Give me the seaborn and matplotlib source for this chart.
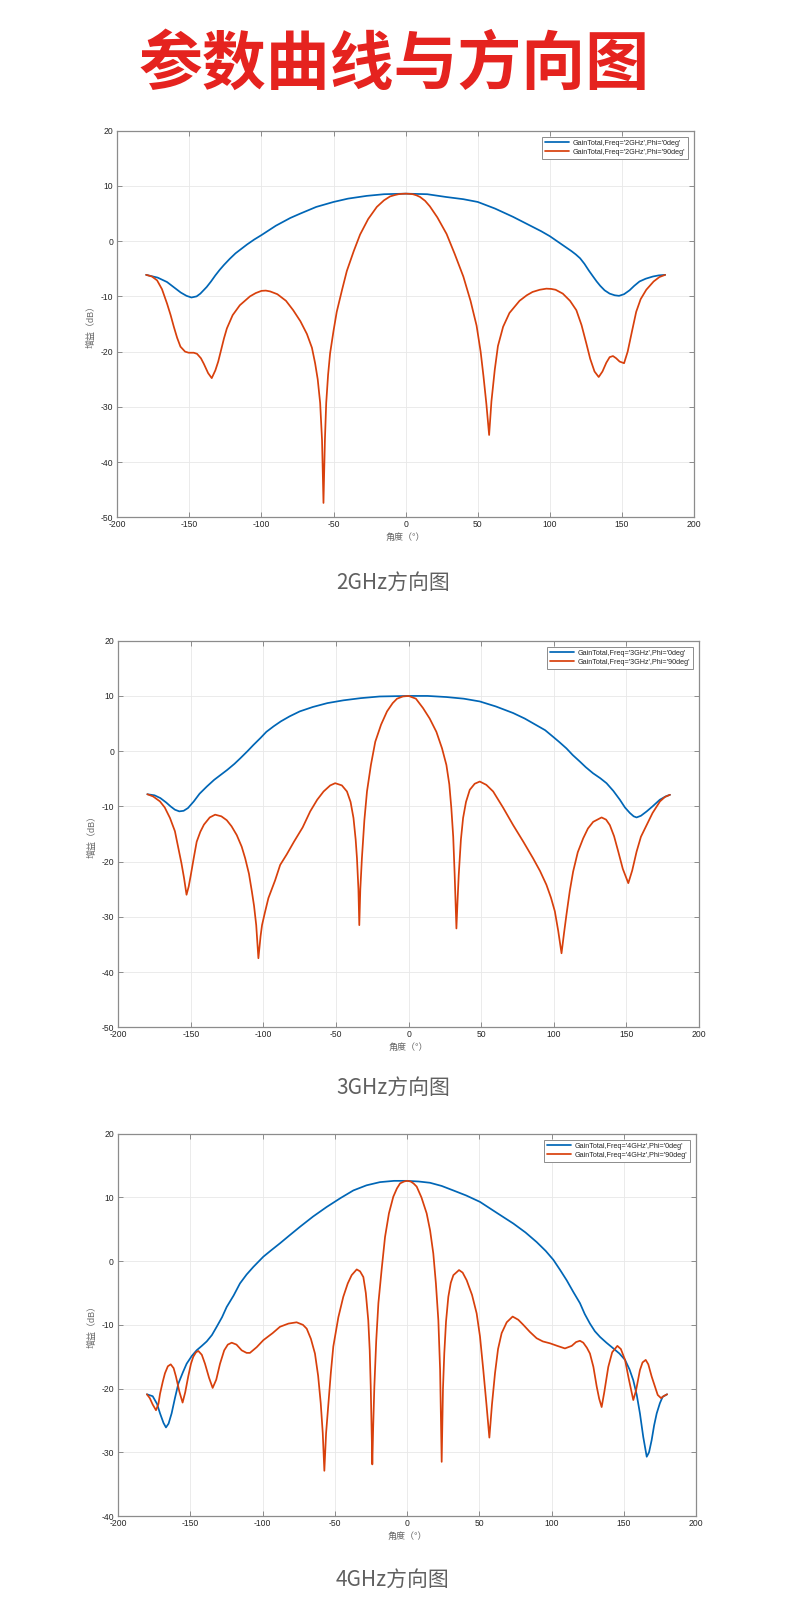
import matplotlib
matplotlib.use("Agg")
import matplotlib.pyplot as plt
import seaborn as sns

# ---------------- data ----------------
title_text = "参数曲线与方向图"
subtitles = ["2GHz方向图", "3GHz方向图", "4GHz方向图"]
legend_2g = ["GainTotal,Freq='2GHz',Phi='0deg'", "GainTotal,Freq='2GHz',Phi='90deg'"]
legend_3g = ["GainTotal,Freq='3GHz',Phi='0deg'", "GainTotal,Freq='3GHz',Phi='90deg'"]
legend_4g = ["GainTotal,Freq='4GHz',Phi='0deg'", "GainTotal,Freq='4GHz',Phi='90deg'"]
xticks = [-200, -150, -100, -50, 0, 50, 100, 150, 200]
yticks_2g = [-50, -40, -30, -20, -10, 0, 10, 20]
yticks_3g = [-50, -40, -30, -20, -10, 0, 10, 20]
yticks_4g = [-40, -30, -20, -10, 0, 10, 20]

ang_2g_phi0 = [-180, -172, -165.5, -160, -156, -152, -148.6, -145, -142.4, -138, -135, -132, -129, -126, -122,
               -118, -114, -110, -105, -100, -90, -80, -73, -62, -50, -40, -27, -15, 0, 15, 28, 40, 50, 62,
               74.5, 82, 88, 94, 100, 105, 110, 115, 118, 121, 124, 127, 130, 132.5, 135, 138, 141.5, 145, 148,
               151.5, 155.3, 158.5, 162.2, 166.5, 171.5, 175.5, 180]
gain_2g_phi0 = [-6.1, -6.6, -7.4, -8.5, -9.3, -9.9, -10.2, -10.0, -9.5, -8.3, -7.3, -6.2, -5.2, -4.3, -3.2,
                -2.2, -1.4, -0.6, 0.3, 1.1, 2.8, 4.2, 5.0, 6.2, 7.1, 7.7, 8.2, 8.5, 8.6, 8.5, 8.0, 7.6, 7.1, 5.9,
                4.4, 3.4, 2.6, 1.8, 0.9, 0.0, -0.9, -1.8, -2.4, -3.1, -4.1, -5.3, -6.4, -7.3, -8.1, -8.9, -9.5,
                -9.8, -9.9, -9.6, -8.9, -8.1, -7.3, -6.8, -6.4, -6.2, -6.1]

ang_2g_phi90 = [-180, -176, -172.4, -169, -165.5, -163, -160.8, -158.5, -156.2, -153, -150.5, -147, -144.7, -142,
                -140, -137, -134.5, -132, -130, -128, -126, -124, -120, -115, -108, -104, -100, -97, -94, -89,
                -83, -78, -73, -68.5, -65, -62.8, -61, -59.3, -58, -57, -56, -55.1, -53.8, -52.4, -50, -47.8,
                -44, -40.8, -36, -31.6, -26, -20, -15, -10.8, -7.5, -5, -2.5, 0, 2.5, 5, 7.5, 10, 13.5, 16.8,
                22, 28.4, 34, 40, 45, 49.2, 52, 54, 56, 57.9, 59.5, 61.8, 64, 67.6, 72, 79, 84, 88, 93, 97.6,
                101, 104, 109, 114, 118.4, 122, 125.3, 128, 131, 133.9, 136.5, 139.2, 141.5, 143.8, 146, 148.4,
                151.5, 154, 157, 159.9, 163, 166.9, 172, 176, 180]
gain_2g_phi90 = [-6.1, -6.4, -7.1, -8.7, -11.3, -13.4, -15.5, -17.5, -19.1, -20.0, -20.2, -20.2, -20.4, -21.2,
                 -22.2, -23.9, -24.8, -23.4, -21.8, -19.7, -17.6, -15.8, -13.4, -11.6, -10.0, -9.4, -9.0, -8.95,
                 -9.1, -9.6, -10.8, -12.5, -14.5, -16.8, -19.3, -22.1, -25.0, -29.3, -36.0, -47.4, -36.0, -29.3,
                 -24.2, -20.3, -16.2, -12.8, -8.7, -5.4, -1.8, 1.2, 4.0, 6.2, 7.4, 8.1, 8.35, 8.5, 8.57, 8.6,
                 8.57, 8.5, 8.3, 8.0, 7.3, 6.3, 4.3, 1.3, -2.3, -6.4, -10.8, -15.3, -20.0, -24.5, -29.5, -35.1,
                 -29.0, -23.3, -19.0, -15.5, -13.0, -10.8, -9.8, -9.2, -8.8, -8.6, -8.65, -8.8, -9.5, -10.8,
                 -12.5, -15.2, -18.5, -21.3, -23.6, -24.6, -23.6, -22.0, -21.0, -20.8, -21.2, -21.8, -22.1,
                 -20.0, -16.3, -12.8, -10.5, -8.8, -7.3, -6.5, -6.1]

ang_3g_phi0 = [-180, -175, -171, -167, -164, -161, -158, -155, -152, -148, -144, -139, -134, -129, -125, -120,
               -116, -111, -107, -102, -98, -93, -88, -82, -75, -66, -56, -45, -33, -20, 0, 13, 26, 38, 49, 60,
               72, 80, 88, 94, 99.5, 104, 108.7, 113, 118, 122, 127, 132, 136.3, 141, 145.5, 149, 152.4, 155,
               157, 160, 164, 168, 173, 177, 180]
gain_3g_phi0 = [-7.8, -8.0, -8.5, -9.3, -10.0, -10.6, -10.9, -10.8, -10.3, -9.1, -7.7, -6.4, -5.2, -4.2, -3.4,
                -2.3, -1.3, 0.0, 1.1, 2.4, 3.5, 4.5, 5.4, 6.3, 7.2, 8.0, 8.7, 9.2, 9.6, 9.9, 10.0, 10.0, 9.8, 9.5,
                9.0, 8.1, 6.9, 5.9, 4.7, 3.8, 2.6, 1.6, 0.5, -0.7, -1.9, -2.9, -4.0, -4.9, -5.8, -7.2, -8.8,
                -10.2, -11.2, -11.8, -12.0, -11.7, -10.9, -10.0, -8.8, -8.2, -7.9]

ang_3g_phi90 = [-180, -176, -171.3, -168, -164.4, -161, -158.6, -156.5, -154.7, -153, -151.5, -150.1, -148,
                -146, -143.5, -141, -137, -133.3, -129, -125.3, -122, -118.4, -115, -112.6, -110, -108, -106.5,
                -105, -103.5, -102, -101, -99, -96.6, -92, -88.5, -84, -79, -73, -67.8, -63, -58.6, -54, -50.6,
                -46, -42.5, -40, -38, -36.5, -35.6, -34.6, -34, -33.3, -32.2, -30.5, -28.7, -26, -23, -19, -14.9,
                -11, -8, -4, 0, 5, 9.9, 14.5, 19.1, 23, 26, 28, 29.4, 30.7, 31.7, 32.9, 33.7, 34.5, 36, 37.5,
                39.5, 42.1, 45.5, 49, 53.5, 58.2, 65, 72, 79, 85.7, 90.5, 94.9, 98, 100.7, 103, 105.3, 107, 108.7,
                111, 113.3, 116.5, 120.2, 123.5, 127.1, 132.9, 136, 138.6, 141.5, 144.4, 147.5, 151.3, 154, 157,
                160, 163.9, 168, 173.1, 176.5, 180]
gain_3g_phi90 = [-7.8, -8.2, -9.1, -10.2, -12.1, -14.5, -17.6, -20.3, -23.0, -26.0, -24.5, -22.5, -19.3, -16.4,
                 -14.6, -13.3, -12.0, -11.5, -11.8, -12.5, -13.6, -15.2, -17.3, -19.4, -22.2, -25.4, -28.0, -31.5,
                 -37.5, -33.5, -31.5, -29.2, -26.6, -23.4, -20.6, -18.7, -16.4, -13.8, -10.9, -8.8, -7.3, -6.2,
                 -5.8, -6.2, -7.3, -9.2, -12.1, -16.0, -19.4, -25.0, -31.5, -25.0, -19.4, -12.5, -7.3, -2.5, 1.7,
                 4.8, 7.2, 8.7, 9.5, 9.9, 10.0, 9.5, 7.8, 5.9, 3.5, 0.5, -2.5, -6.0, -10.3, -15.5, -22.4, -32.1,
                 -27.0, -22.4, -16.0, -12.1, -9.2, -7.0, -5.9, -5.5, -6.1, -7.3, -10.2, -13.4, -16.4, -19.4,
                 -21.7, -24.2, -26.5, -29.0, -32.5, -36.6, -33.0, -29.6, -25.3, -21.8, -18.3, -15.8, -14.0,
                 -12.8, -12.0, -12.4, -13.4, -15.4, -18.2, -21.3, -23.9, -21.6, -18.2, -15.5, -13.4, -11.2,
                 -9.1, -8.3, -7.9]

ang_4g_phi0 = [-180, -176, -173, -170.9, -168.5, -166.8, -165, -162.9, -160.5, -158.2, -155, -152.5, -149,
               -145.6, -142, -138.6, -135, -131.7, -128, -124.8, -120, -115.6, -111, -106.3, -99.4, -94, -87.9,
               -81, -74, -65, -55.6, -46, -37.1, -28, -18.7, -9, 0, 8, 15.9, 24, 32, 41, 50.5, 62, 73.6, 82,
               89.7, 96, 101.3, 106, 110.5, 115, 119.7, 123, 126.6, 130, 133.6, 138, 142.8, 147, 150.9, 154,
               156.6, 159, 161.2, 163.5, 165.9, 167.5, 169.3, 171, 172.8, 175, 176.9, 180]
gain_4g_phi0 = [-20.9, -21.2, -22.4, -23.9, -25.4, -26.1, -25.5, -23.9, -21.4, -19.2, -17.4, -16.1, -14.9,
                -14.0, -13.3, -12.6, -11.6, -10.3, -8.8, -7.2, -5.4, -3.5, -2.1, -0.9, 0.7, 1.7, 2.8, 4.1, 5.4,
                7.0, 8.5, 9.9, 11.1, 11.9, 12.4, 12.6, 12.6, 12.5, 12.3, 11.8, 11.1, 10.3, 9.3, 7.6, 5.9, 4.5,
                3.0, 1.6, 0.2, -1.4, -3.0, -4.8, -6.6, -8.3, -9.8, -11.0, -11.9, -12.8, -13.7, -14.5, -15.5,
                -17.0, -18.7, -21.0, -23.9, -27.6, -30.7, -30.0, -28.1, -25.8, -23.9, -22.3, -21.3, -20.9]

ang_4g_phi90 = [-180, -178, -176, -173.7, -172, -170.9, -169, -167.5, -165.5, -163.5, -161.5, -159.9, -157.5,
                -155.3, -153.5, -151.4, -149.5, -147.9, -146, -144.4, -142, -139.8, -137, -134.5, -132, -129.4,
                -126.5, -124, -121.3, -118, -114.4, -111, -108.7, -104, -99.4, -93, -87.9, -82, -76.4, -72,
                -69.4, -66.5, -63.7, -61.5, -59.7, -58.3, -57.2, -56, -54.4, -52.7, -51, -47.5, -44.1, -41,
                -38.3, -34.8, -32.5, -30.2, -28.5, -26.8, -25.8, -25.1, -24.5, -24, -23.4, -22.6, -21.3, -19.8,
                -17.5, -15.2, -12.5, -9.5, -7, -4.8, -2, 0, 2.5, 4.5, 6.7, 10, 13.6, 16, 18.2, 20, 21.7, 22.9,
                24, 24.9, 25.8, 27, 28.6, 30.3, 32.1, 36, 38.5, 41.3, 45, 48.2, 50.5, 52.8, 55, 57, 58.8, 60.9,
                63, 65.5, 69, 73.1, 77, 80.5, 85, 89.7, 94, 99, 104, 109.3, 114, 117, 119.7, 122, 124.5, 126.6,
                129, 131.3, 133, 134.7, 136.5, 139.3, 142, 145.6, 148, 150.9, 153.5, 156.6, 158.5, 161.2, 163,
                165.2, 167, 169.3, 172, 173.5, 175.8, 177.5, 180]
gain_4g_phi90 = [-20.9, -21.5, -22.5, -23.4, -22.4, -20.8, -18.9, -17.6, -16.5, -16.2, -16.8, -18.1, -20.5,
                 -22.2, -20.6, -18.1, -16.1, -15.0, -14.3, -14.1, -14.7, -16.1, -18.3, -19.9, -18.6, -16.1,
                 -14.0, -13.1, -12.8, -13.1, -14.0, -14.4, -14.4, -13.5, -12.4, -11.3, -10.3, -9.8, -9.6, -10.0,
                 -10.6, -12.2, -14.5, -18.0, -22.3, -27.0, -32.9, -27.0, -22.3, -17.5, -13.4, -8.8, -5.6, -3.5,
                 -2.2, -1.3, -1.6, -2.5, -5.0, -9.3, -14.0, -19.7, -26.0, -31.9, -26.0, -19.7, -12.5, -6.6, -1.2,
                 3.8, 7.5, 10.1, 11.4, 12.2, 12.5, 12.6, 12.5, 12.2, 11.7, 10.0, 7.5, 4.8, 1.2, -3.5, -9.3,
                 -17.0, -31.5, -20.0, -14.5, -9.5, -5.6, -3.4, -2.2, -1.4, -1.8, -3.0, -5.3, -8.2, -11.8, -17.1,
                 -22.5, -27.7, -22.5, -17.6, -13.8, -11.3, -9.6, -8.7, -9.2, -10.0, -11.1, -12.1, -12.6, -12.9,
                 -13.3, -13.7, -13.3, -12.7, -12.5, -12.8, -13.6, -14.5, -16.6, -19.7, -21.6, -22.9, -20.6,
                 -16.6, -14.3, -13.3, -13.8, -15.5, -18.5, -21.8, -20.3, -17.1, -15.9, -15.5, -16.2, -18.1,
                 -20.0, -21.0, -21.5, -21.2, -20.9]

# ---------------- style ----------------
sns.set_style("white")
plt.rcParams["font.family"] = ["Liberation Sans", "Noto Sans CJK SC", "DejaVu Sans"]
plt.rcParams["axes.unicode_minus"] = False

BLUE = "#0066B6"
RED = "#D8400C"
SPINE = "#8c8c8c"
W, H = 790, 1605

fig = plt.figure(figsize=(W / 100, H / 100), dpi=100)


def px_rect(l, t, r, b):
    return [l / W, 1 - b / H, (r - l) / W, (b - t) / H]


panels = [
    dict(box=(117.3, 130.7, 694.0, 517.3), ylim=(-50, 20), yticks=yticks_2g,
         a0=ang_2g_phi0, g0=gain_2g_phi0, a1=ang_2g_phi90, g1=gain_2g_phi90, leg=legend_2g,
         sub=subtitles[0], sub_y=583),
    dict(box=(118.3, 640.7, 699.0, 1027.3), ylim=(-50, 20), yticks=yticks_3g,
         a0=ang_3g_phi0, g0=gain_3g_phi0, a1=ang_3g_phi90, g1=gain_3g_phi90, leg=legend_3g,
         sub=subtitles[1], sub_y=1088),
    dict(box=(118.0, 1133.7, 696.0, 1516.0), ylim=(-40, 20), yticks=yticks_4g,
         a0=ang_4g_phi0, g0=gain_4g_phi0, a1=ang_4g_phi90, g1=gain_4g_phi90, leg=legend_4g,
         sub=subtitles[2], sub_y=1580),
]

for p in panels:
    l, t, r, b = p["box"]
    ax = fig.add_axes(px_rect(l, t, r, b))
    sns.lineplot(x=p["a0"], y=p["g0"], ax=ax, color=BLUE, lw=1.25, label=p["leg"][0], errorbar=None)
    sns.lineplot(x=p["a1"], y=p["g1"], ax=ax, color=RED, lw=1.25, label=p["leg"][1], errorbar=None)
    for ln in ax.get_lines():
        ln.set_solid_joinstyle("round")
    ax.set_xlim(-200, 200)
    ax.set_ylim(*p["ylim"])
    ax.set_xticks(xticks)
    ax.set_yticks(p["yticks"])
    ax.grid(True, color="#e8e8e8", lw=0.6)
    ax.set_axisbelow(True)
    for sp in ax.spines.values():
        sp.set_visible(True)
        sp.set_color(SPINE)
        sp.set_linewidth(0.9)
    ax.tick_params(axis="both", direction="in", bottom=True, top=True, left=True, right=True,
                   length=3.5, width=0.7, color=SPINE, labelsize=6.2, labelcolor="#262626")
    ax.tick_params(axis="x", pad=2.2)
    ax.tick_params(axis="y", pad=3.0)
    ax.set_xlabel("角度（°）", fontsize=6.5, color="#666666")
    ax.xaxis.set_label_coords(0.5, -0.041)
    ax.set_ylabel("增益（dB）", fontsize=6.5, color="#666666")
    ax.yaxis.set_label_coords(-0.037, 0.5)
    leg = ax.legend(loc="upper right", fontsize=5.2, frameon=True, fancybox=False, framealpha=1,
                    edgecolor=SPINE, borderaxespad=0.9, handlelength=3.4, handletextpad=0.45,
                    labelspacing=0.3, borderpad=0.35)
    leg.get_frame().set_linewidth(0.7)
    fig.text(393 / W, 1 - p["sub_y"] / H, p["sub"], ha="center", va="center", fontsize=15,
             color="#606060", family=["Noto Sans CJK SC", "DejaVu Sans"], weight="light")

fig.text(394 / W, 1 - 65 / H, title_text, ha="center", va="center", fontsize=46,
         color="#E5231F", family=["Noto Sans CJK SC", "DejaVu Sans"], weight="heavy")

fig.savefig("out.png", dpi=100)
